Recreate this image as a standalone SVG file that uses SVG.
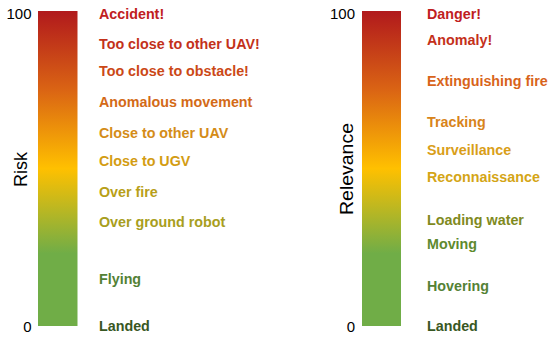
<svg xmlns="http://www.w3.org/2000/svg" width="550" height="338" viewBox="0 0 550 338">
<defs>
<linearGradient id="scale" x1="0" y1="0" x2="0" y2="1">
<stop offset="0" stop-color="#B1191C"/>
<stop offset="0.25" stop-color="#DA6414"/>
<stop offset="0.5" stop-color="#FFC000"/>
<stop offset="0.77" stop-color="#70AD47"/>
<stop offset="1" stop-color="#70AD47"/>
</linearGradient>
<style>
.lbl{font-family:"Liberation Sans",Arial,sans-serif;font-weight:bold;font-size:14.3px}
.ax{font-family:"Liberation Sans",Arial,sans-serif;font-size:15px;fill:#000}
.title{font-family:"Liberation Sans",Arial,sans-serif;font-size:18.5px;fill:#000}
</style>
</defs>
<rect width="550" height="338" fill="#fff"/>
<g id="risk-scale">
<rect x="38" y="11" width="39.5" height="315" fill="url(#scale)"/>
<text class="ax" x="31.5" y="18.5" text-anchor="end">100</text>
<text class="ax" x="31.5" y="331.5" text-anchor="end">0</text>
<text class="title" transform="translate(27,169.5) rotate(-90)" text-anchor="middle" textLength="35" lengthAdjust="spacingAndGlyphs">Risk</text>
</g>
<g id="risk-labels" class="lbl">
<text x="99" y="18.5" fill="#C0201E">Accident!</text>
<text x="99" y="49" fill="#C3311A">Too close to other UAV!</text>
<text x="99" y="75.7" fill="#CB4816">Too close to obstacle!</text>
<text x="99" y="106.7" fill="#D36A17">Anomalous movement</text>
<text x="99" y="138.3" fill="#D48C18">Close to other UAV</text>
<text x="99" y="165.7" fill="#D39C12">Close to UGV</text>
<text x="99" y="196.7" fill="#B89F18">Over fire</text>
<text x="99" y="227.3" fill="#A89E20">Over ground robot</text>
<text x="99" y="284.3" fill="#538135">Flying</text>
<text x="99" y="331.3" fill="#385723">Landed</text>
</g>
<g id="relevance-scale">
<rect x="362" y="11" width="39" height="315" fill="url(#scale)"/>
<text class="ax" x="355" y="18.5" text-anchor="end">100</text>
<text class="ax" x="355" y="331.5" text-anchor="end">0</text>
<text class="title" transform="translate(353,169) rotate(-90)" text-anchor="middle" textLength="92" lengthAdjust="spacingAndGlyphs">Relevance</text>
</g>
<g id="relevance-labels" class="lbl">
<text x="427" y="18.5" fill="#C0201E">Danger!</text>
<text x="427" y="45" fill="#C4301A">Anomaly!</text>
<text x="427" y="85.7" fill="#D8641A">Extinguishing fire</text>
<text x="427" y="127.3" fill="#D8841A">Tracking</text>
<text x="427" y="155" fill="#D99E18">Surveillance</text>
<text x="427" y="181.7" fill="#D4A516">Reconnaissance</text>
<text x="427" y="225" fill="#7F8A1E">Loading water</text>
<text x="427" y="249" fill="#5E8A2E">Moving</text>
<text x="427" y="291" fill="#548235">Hovering</text>
<text x="427" y="331.3" fill="#385723">Landed</text>
</g>
</svg>
